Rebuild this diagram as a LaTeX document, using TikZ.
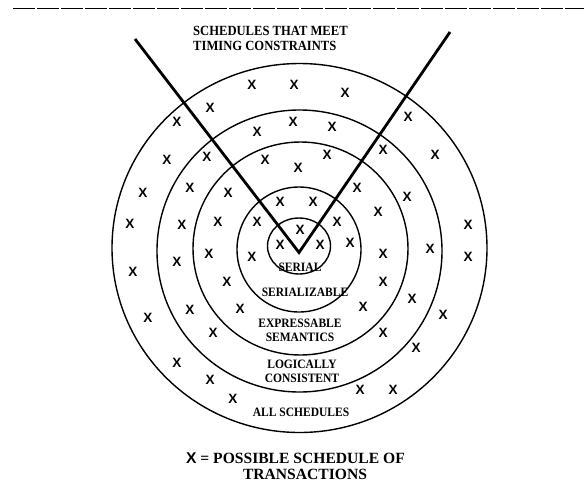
\documentclass[tikz,border=0pt]{standalone}
\usepackage{fontspec}
\setmainfont{Liberation Serif}
\setsansfont{Liberation Sans}
\newfontfamily\narrowserif[FakeStretch=0.9]{Liberation Serif}

\begin{document}
\begin{tikzpicture}[
    x=1pt, y=-1pt,
    ringLine/.style={line width=1.4pt},
    vLine/.style={line width=2.8pt},
    schedX/.style={font=\sffamily\bfseries\fontsize{13.5}{13.5}\selectfont, inner sep=0pt},
    ringLabel/.style={font=\narrowserif\bfseries\fontsize{12.8}{14}\selectfont, align=center, inner sep=0pt},
    titleLabel/.style={font=\narrowserif\bfseries\fontsize{14}{15}\selectfont, align=left, inner sep=0pt},
    legendLabel/.style={font=\bfseries\fontsize{15.6}{15}\selectfont, inner sep=0pt}
]
    \useasboundingbox (0,0) rectangle (584,491);

    % Top rule
    \coordinate (ruleL) at (13,8);
    \coordinate (ruleR) at (584,8);
    \draw[line width=0.9pt, dash pattern=on 22pt off 2pt] (ruleL) -- (ruleR);

    % Nested schedule sets
    \draw[ringLine] (299.5,248) ellipse [x radius=187.5pt, y radius=184.5pt];
    \draw[ringLine] (299.5,251) ellipse [x radius=142.5pt, y radius=141pt];
    \draw[ringLine] (300.5,248.5) ellipse [x radius=107.5pt, y radius=106.5pt];
    \draw[ringLine] (299,249.5) ellipse [x radius=62pt, y radius=62.5pt];
    \draw[ringLine] (299,246) ellipse [x radius=31.5pt, y radius=28pt];

    % Timing constraint wedge
    \coordinate (vLeft) at (135,39);
    \coordinate (vApex) at (299,252.5);
    \coordinate (vRight) at (450,32);
    \draw[vLine] (vLeft) -- (vApex) -- (vRight);

    % Possible schedules
    \foreach \p [count=\i] in {
        {252,85}, {294,85}, {345,93}, {210,108}, {177,122}, {408,117}, {435,155},
        {167,160}, {143,193}, {130,224}, {468,225}, {468,257}, {133,272}, {148,318},
        {443,315}, {416,348}, {177,363}, {210,380}, {233,399}, {360,390}, {393,390},
        {257,132}, {293,122}, {332,127}, {207,157}, {383,150}, {190,188}, {407,197},
        {182,225}, {430,249}, {177,262}, {190,310}, {412,299}, {213,333}, {383,333},
        {265,160}, {298,168}, {327,155}, {357,188}, {228,193}, {378,212}, {218,222},
        {209,254}, {383,254}, {227,282}, {383,282}, {240,309}, {363,307},
        {280,202}, {313,202}, {257,222}, {337,222}, {252,257}, {350,243},
        {300,230}, {280,245}, {320,245}}
        \node[schedX] (x\i) at (\p) {X};

    % Set labels
    \node[titleLabel, anchor=north west] (timing) at (193,26) {SCHEDULES THAT MEET\\TIMING CONSTRAINTS};
    \node[ringLabel] (serial) at (300,267.5) {SERIAL};
    \node[ringLabel] (serializable) at (305,292) {SERIALIZABLE};
    \node[ringLabel] (expressable) at (300,330.5) {EXPRESSABLE\\SEMANTICS};
    \node[ringLabel] (logical) at (302,371) {LOGICALLY\\CONSISTENT};
    \node[ringLabel] (allSched) at (301,412) {ALL SCHEDULES};

    % Legend
    \node[legendLabel] (legendTop) at (295.5,458) {{\sffamily\fontsize{15.6}{15}\selectfont X} = POSSIBLE SCHEDULE OF};
    \node[legendLabel] (legendBot) at (305,474.5) {TRANSACTIONS};

\end{tikzpicture}
\end{document}
